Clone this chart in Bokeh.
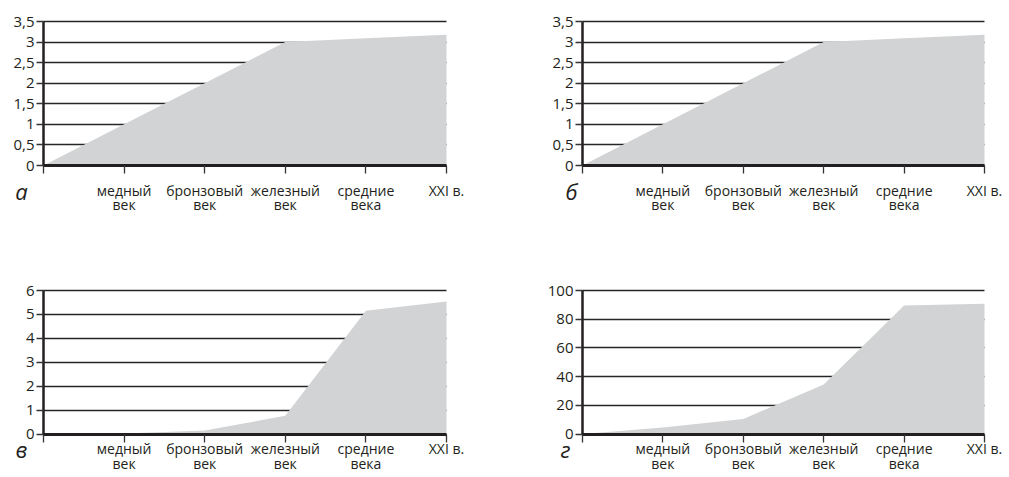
from bokeh.plotting import figure
from bokeh.layouts import column, row
from bokeh.models import Range1d, FixedTicker, CustomJSTickFormatter, Grid
from bokeh.core.properties import value
from bokeh.embed import file_html
from bokeh.resources import INLINE

# ---- data ----
x_pos = [0, 1, 2, 3, 4, 5]
categories = ["", "медный\nвек", "бронзовый\nвек", "железный\nвек", "средние\nвека", "XXI в."]

vals_a = [0, 1.0, 2.0, 3.0, 3.09, 3.18]
vals_b = [0, 1.0, 2.0, 3.0, 3.09, 3.18]
vals_v = [0, 0.02, 0.15, 0.76, 5.15, 5.54]
vals_g = [0, 4.5, 10.5, 34.5, 89.5, 90.7]

ticks_a = [0, 0.5, 1, 1.5, 2, 2.5, 3, 3.5]
ticks_b = [0, 0.5, 1, 1.5, 2, 2.5, 3, 3.5]
ticks_v = [0, 1, 2, 3, 4, 5, 6]
ticks_g = [0, 20, 40, 60, 80, 100]

letters = ["а", "б", "в", "г"]

FONT = "Open Sans"
TXT = "#231f20"
FILL = "#d1d3d4"
HAS_CROSS = "cross_bounds" in Grid.properties()


def make_panel(vals, yticks, letter, W, H, px0, px5, py0, pytop, letter_dx, letter_dy, standoff):
    xmax = x_pos[-1]
    ymax = yticks[-1]
    xppu = (px5 - px0) / xmax
    yppu = (py0 - pytop) / ymax
    xr = Range1d(-px0 / xppu, xmax + (W - px5) / xppu)
    yr = Range1d(-(H - py0) / yppu, ymax + pytop / yppu)
    p = figure(width=W, height=H, output_backend="svg", toolbar_location=None,
               x_range=xr, y_range=yr,
               min_border_left=0, min_border_right=0, min_border_top=0, min_border_bottom=0)
    p.outline_line_color = None
    p.background_fill_color = "white"
    p.border_fill_color = "white"

    # horizontal grid lines between x=0 and the last category
    p.xgrid.grid_line_color = None
    if HAS_CROSS:
        p.ygrid.ticker = FixedTicker(ticks=yticks)
        p.ygrid.cross_bounds = (0, xmax)
        p.ygrid.grid_line_color = "#262626"
        p.ygrid.grid_line_width = 1.4
    else:
        p.ygrid.grid_line_color = None
        p.segment(x0=[0] * len(yticks), x1=[xmax] * len(yticks), y0=yticks, y1=yticks,
                  line_color="#262626", line_width=1.4, level="underlay")

    p.varea(x=x_pos, y1=[0] * len(x_pos), y2=vals, fill_color=FILL)

    ax = p.xaxis[0]
    ax.fixed_location = 0
    ax.bounds = (0, xmax)
    ax.ticker = FixedTicker(ticks=x_pos)
    ax.axis_line_width = 3
    ax.axis_line_color = "#231f20"
    ax.major_tick_in = 0
    ax.major_tick_out = 8
    ax.major_tick_line_color = "#333333"
    ax.major_tick_line_width = 1.3
    ax.minor_tick_line_color = None
    ax.major_label_overrides = {i: c for i, c in zip(x_pos, categories)}
    ax.major_label_standoff = standoff
    ax.major_label_text_font = FONT
    ax.major_label_text_font_size = "14px"
    ax.major_label_text_color = TXT
    ax.major_label_text_line_height = 0.78

    ay = p.yaxis[0]
    ay.fixed_location = 0
    ay.bounds = (0, ymax)
    ay.ticker = FixedTicker(ticks=yticks)
    ay.axis_line_width = 2.5
    ay.axis_line_color = "#231f20"
    ay.major_tick_in = 0
    ay.major_tick_out = 7
    ay.major_tick_line_color = "#333333"
    ay.major_tick_line_width = 1.3
    ay.minor_tick_line_color = None
    ay.major_label_standoff = 2
    ay.major_label_text_font = FONT
    ay.major_label_text_font_size = "15px"
    ay.major_label_text_color = TXT
    ay.formatter = CustomJSTickFormatter(code="return String(tick).replace('.', ',');")

    p.text(x=[0], y=[0], text=[letter], x_offset=letter_dx, y_offset=letter_dy,
           text_align="center", text_baseline="alphabetic", text_font=value(FONT),
           text_font_style="italic", text_font_size="22px", text_color=TXT)
    return p


pa = make_panel(vals_a, ticks_a, letters[0], 508, 250, 43, 446, 165, 21, -22, 25, 7)
pb = make_panel(vals_b, ticks_b, letters[1], 500, 250, 74, 476, 165, 21, -11, 25, 7)
pv = make_panel(vals_v, ticks_v, letters[2], 508, 226, 43, 446, 183.5, 40, -22, 15, -3)
pg = make_panel(vals_g, ticks_g, letters[3], 500, 226, 74, 476, 183.5, 40, -17, 15, -3)

layout = column(row(pa, pb), row(pv, pg))
open("out.html", "w").write(file_html(layout, INLINE))
